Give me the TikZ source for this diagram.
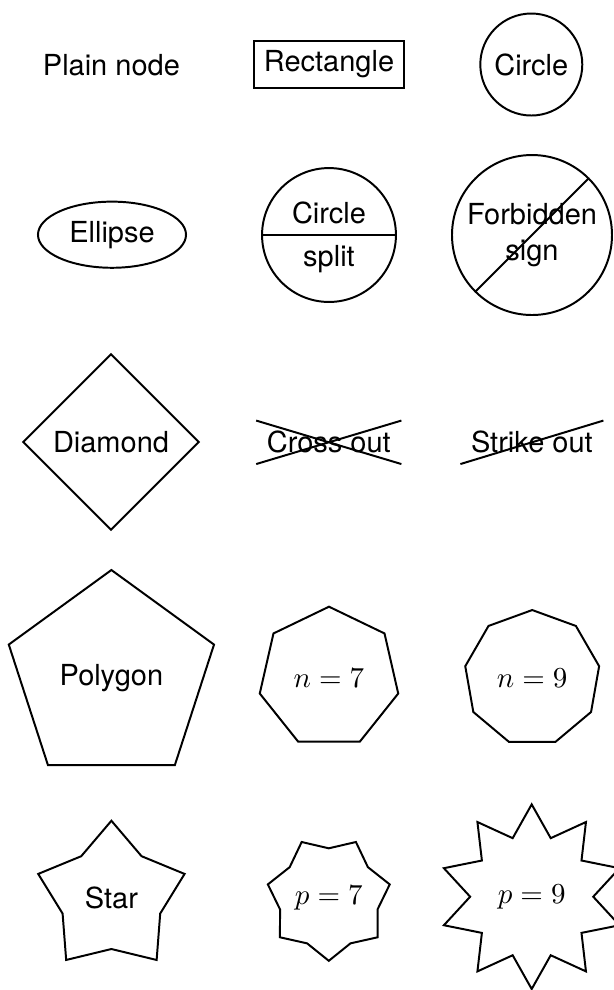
\documentclass[tikz,border=0pt]{standalone}
\usepackage[no-math]{fontspec}
\setmainfont{TeX Gyre Heros}
\usetikzlibrary{shapes.geometric,shapes.misc,shapes.multipart,shapes.symbols}
\newlength\mypx
\setlength\mypx{0.345pt}
\begin{document}
\begin{tikzpicture}[x=\mypx,y=-\mypx,
  every node/.style={font=\fontsize{10}{12.6}\selectfont},
  shp/.style={draw,line width=0.68pt}]
\useasboundingbox (0,0) rectangle (613,990);
% row 1
\node (plain) at (111.4,65.4) {Plain node};
\node[shp,rectangle] (rect) at (329,64.5) {Rectangle};
\node[shp,circle] (circ) at (531.3,64.5) {Circle};
% row 2
\node[shp,ellipse] (ell) at (112,234.7) {Ellipse};
\node[shp,circle split,minimum size=46.2pt] (csplit) at (329,235) {Circle \nodepart{lower} split};
\node[shp,forbidden sign,align=center,inner sep=1.5pt,minimum size=55.2pt] (forb) at (532,235) {Forbidden\\sign};
% row 3
\node[shp,diamond] (dia) at (111,442) {Diamond};
\node[shp,cross out] (cross) at (328.8,442.3) {Cross out};
\node[shp,strike out] (strike) at (531.9,442.3) {Strike out};
% row 4
\node[shp,regular polygon,regular polygon sides=5,minimum size=74.45pt] (pent) at (111.4,677.9) {Polygon};
\node[shp,regular polygon,regular polygon sides=7,minimum size=49pt] (hept) at (329,677.7) {$n=7$};
\node[shp,regular polygon,regular polygon sides=9,minimum size=46.9pt] (non) at (532.2,678) {$n=9$};
% row 5
\node[shp,star,star points=5,minimum size=53.1pt] (star5) at (111.4,897.7) {Star};
\node[shp,star,star points=7,star point ratio=0.8,minimum size=34.5pt] (star7) at (328.8,898.3) {$p=7$};
\node[shp,star,star points=10,minimum size=63.3pt] (star10) at (531.7,896.7) {$p=9$};
\end{tikzpicture}
\end{document}
